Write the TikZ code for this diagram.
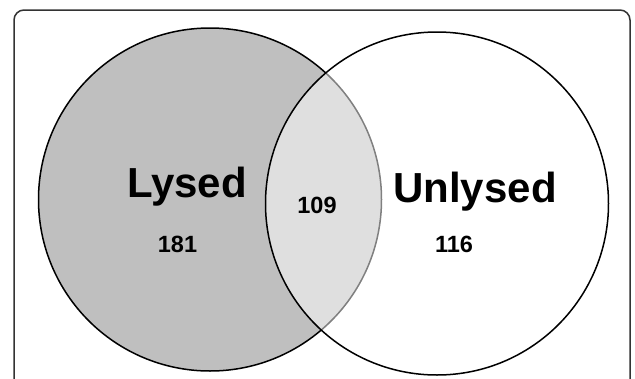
\documentclass[tikz,border=0pt]{standalone}
\usepackage{fontspec}
\setmainfont{Liberation Sans}
\usepackage{tikz}
\usetikzlibrary{positioning}

\begin{document}
\begin{tikzpicture}[x=1pt,y=-1pt]
	\tikzstyle{setcircle} = [draw=black, line width=1.5pt, circle, inner sep=0pt, minimum size=343pt]
	\tikzstyle{setname} = [font=\fontsize{42}{42}\selectfont\bfseries, anchor=base, inner sep=0pt]
	\tikzstyle{count} = [font=\fontsize{23.5}{24}\selectfont\bfseries, anchor=base, inner sep=0pt]

	\useasboundingbox (0,0) rectangle (635,378);
	\clip (0,0) rectangle (635,378);
	\draw [draw=black!80, line width=1.5pt, rounded corners=10pt] (14,10) rectangle (630,400);

	\node [setcircle, fill=black!25] (lysed) at (210,199.5) {};
	\node [setcircle, fill=white, fill opacity=0.5] (unlysed) at (437,203.5) {};

	\node [setname] (lysedname) at (187,197) {Lysed};
	\node [setname] (unlysedname) at (475,202) {Unlysed};
	\node [count] (onlylysed) at (177.5,252) {181};
	\node [count] (both) at (317,213) {109};
	\node [count] (onlyunlysed) at (454,252) {116};
\end{tikzpicture}
\end{document}
